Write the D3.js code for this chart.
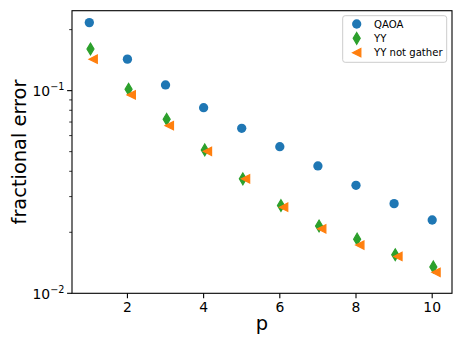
<!DOCTYPE html>
<html lang="en">
<head>
<meta charset="UTF-8">
<title>fractional error vs p</title>
<script src="https://d3js.org/d3.v7.min.js"></script>
<style>
  body { margin: 0; background: #fff; }
  svg { display: block; font-family: "DejaVu Sans", sans-serif; }
</style>
</head>
<body>
<svg id="chart" width="463" height="347"></svg>
<script>
  // data
  var pQAOA = [1, 2, 3, 4, 5, 6, 7, 8, 9, 10];
  var errQAOA = [0.2166, 0.143, 0.1067, 0.0824, 0.0652, 0.0529, 0.0425, 0.0341, 0.0277, 0.0230];

  var pYY = [1.03, 2.03, 3.03, 4.03, 5.03, 6.03, 7.03, 8.03, 9.03, 10.03];
  var errYY = [0.1606, 0.1016, 0.0722, 0.0510, 0.0367, 0.0271, 0.0215, 0.0185, 0.0155, 0.0135];

  var pYYng = [1.1, 2.1, 3.1, 4.1, 5.1, 6.1, 7.1, 8.1, 9.1, 10.1];
  var errYYng = [0.1429, 0.0953, 0.0672, 0.0502, 0.0367, 0.0266, 0.0208, 0.0173, 0.0152, 0.0127];

  var xTicks = [2, 4, 6, 8, 10];
  var yMajor = [0.1, 0.01];
  var yMinor = [0.02, 0.03, 0.04, 0.05, 0.06, 0.07, 0.08, 0.09, 0.2];
  var seriesNames = ["QAOA", "YY", "YY not gather"];

  var svg = d3.select("#chart");
  // plot area (window.top is reserved, so use other names)
  var pl = 72, pr = 452, pt = 10.7, pb = 293.3;

  var x = d3.scaleLinear().domain([0.545, 10.52]).range([pl, pr]);
  var y = d3.scaleLog().domain([0.01, 0.248]).range([pb, pt]);

  // marker shapes (matplotlib-ish sizes)
  var ms = 8.3;
  function circle(g, col) {
    g.append("circle").attr("r", ms / 2 + 0.5).attr("fill", col);
  }
  function thinDiamond(g, col) {
    var h = ms * 0.7071, w = h * 0.6;
    g.append("path")
      .attr("d", "M0," + (-h) + "L" + w + ",0L0," + h + "L" + (-w) + ",0Z")
      .attr("fill", col).attr("stroke", col).attr("stroke-width", 1.2);
  }
  function triLeft(g, col) {
    var s = ms / 2;
    g.append("path")
      .attr("d", "M" + (-s) + ",0L" + s + "," + (-s) + "L" + s + "," + s + "Z")
      .attr("fill", col).attr("stroke", col).attr("stroke-width", 1.2);
  }

  var series = [
    { name: seriesNames[0], xs: pQAOA, ys: errQAOA, color: "#1f77b4", mark: circle },
    { name: seriesNames[1], xs: pYY, ys: errYY, color: "#2ca02c", mark: thinDiamond },
    { name: seriesNames[2], xs: pYYng, ys: errYYng, color: "#ff7f0e", mark: triLeft }
  ];

  // points
  series.forEach(function(s) {
    var g = svg.append("g");
    s.xs.forEach(function(px, i) {
      var m = g.append("g").attr("transform", "translate(" + x(px) + "," + y(s.ys[i]) + ")");
      s.mark(m, s.color);
    });
  });

  // x axis
  var xAxis = svg.append("g").attr("transform", "translate(0," + pb + ")");
  xAxis.selectAll("line").data(xTicks).enter().append("line")
    .attr("x1", function(d) { return x(d); }).attr("x2", function(d) { return x(d); })
    .attr("y1", 0).attr("y2", 4.9).attr("stroke", "#000").attr("stroke-width", 1.1);
  xAxis.selectAll("text").data(xTicks).enter().append("text")
    .attr("x", function(d) { return x(d); }).attr("y", 18.7)
    .attr("text-anchor", "middle").attr("font-size", "13.9px").attr("fill", "#000")
    .text(function(d) { return d; });

  // y axis
  var yAxis = svg.append("g");
  yAxis.selectAll("line.major").data(yMajor).enter().append("line")
    .attr("x1", pl - 4.9).attr("x2", pl)
    .attr("y1", function(d) { return y(d); }).attr("y2", function(d) { return y(d); })
    .attr("stroke", "#000").attr("stroke-width", 1.1);
  yAxis.selectAll("line.minor").data(yMinor).enter().append("line")
    .attr("x1", pl - 2.8).attr("x2", pl)
    .attr("y1", function(d) { return y(d); }).attr("y2", function(d) { return y(d); })
    .attr("stroke", "#000").attr("stroke-width", 0.8);
  var yl = yAxis.selectAll("text").data(yMajor).enter().append("text")
    .attr("x", pl - 7.5).attr("y", function(d) { return y(d) + 5.5; })
    .attr("text-anchor", "end").attr("font-size", "13.9px").attr("fill", "#000");
  yl.append("tspan").text("10");
  yl.append("tspan").attr("dy", -6).attr("font-size", "9.7px")
    .text(function(d) { return "\u2212" + Math.round(-Math.log10(d)); });

  // frame
  svg.append("rect").attr("x", pl).attr("y", pt)
    .attr("width", pr - pl).attr("height", pb - pt)
    .attr("fill", "none").attr("stroke", "#000").attr("stroke-width", 1.1);

  // labels
  svg.append("text").attr("x", (pl + pr) / 2).attr("y", 330)
    .attr("text-anchor", "middle").attr("font-size", "19.4px").text("p");
  svg.append("text").attr("transform", "translate(26," + (pt + pb) / 2 + ") rotate(-90)")
    .attr("text-anchor", "middle").attr("font-size", "19.4px").text("fractional error");

  // legend
  var lg = svg.append("g");
  lg.append("rect").attr("x", 342.7).attr("y", 15.7).attr("width", 104).attr("height", 46.6)
    .attr("rx", 2.5).attr("fill", "#fff").attr("fill-opacity", 0.8)
    .attr("stroke", "#cccccc").attr("stroke-width", 1);
  var rowY = d3.scaleLinear().domain([0, 2]).range([24, 52.7]);
  series.forEach(function(s, i) {
    var m = lg.append("g").attr("transform", "translate(356.7," + rowY(i) + ")");
    s.mark(m, s.color);
    lg.append("text").attr("x", 374).attr("y", rowY(i) + 3.7)
      .attr("font-size", "10.1px").attr("fill", "#000").text(s.name);
  });
</script>
</body>
</html>
